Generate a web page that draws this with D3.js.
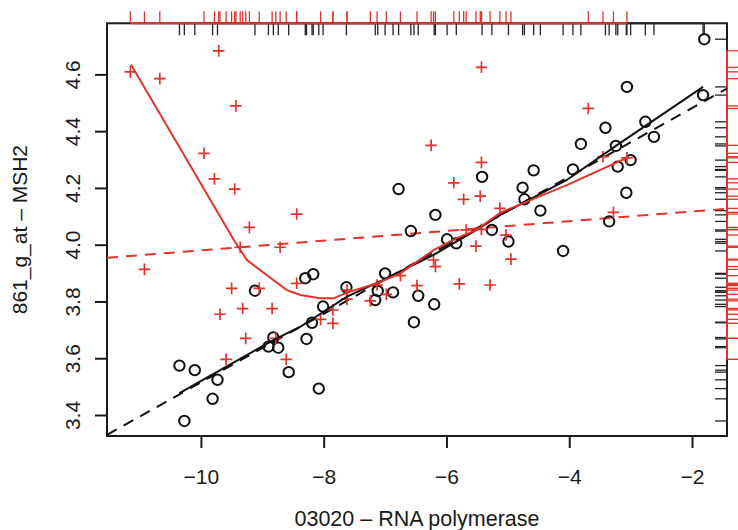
<!DOCTYPE html>
<html>
<head>
<meta charset="utf-8">
<script src="https://cdn.jsdelivr.net/npm/d3@7"></script>
<style>
  body { margin: 0; background: #fff; }
  svg { display: block; font-family: "Liberation Sans", Arial, Helvetica, sans-serif; }
</style>
</head>
<body>
<div id="chart"></div>
<script>
// black group (circles)
const circleX = [-1.80, -1.82, -3.06, -2.76, -3.41, -2.62, -3.24, -3.81, -4.58, -3.94,
  -3.00, -3.21, -4.76, -4.73, -4.47, -3.07, -3.35, -5.42, -6.78, -6.18,
  -6.58, -5.26, -5.99, -5.84, -4.99, -4.10, -8.30, -8.17, -7.63, -7.00,
  -8.01, -7.12, -6.87, -7.16, -8.19, -8.28, -6.46, -6.20, -6.53, -8.08,
  -9.12, -8.90, -8.82, -8.74, -8.57, -10.35, -10.10, -9.73, -9.81, -10.27];
const circleY = [4.724, 4.527, 4.556, 4.433, 4.412, 4.380, 4.348, 4.355, 4.262, 4.265,
  4.298, 4.275, 4.201, 4.160, 4.120, 4.183, 4.082, 4.239, 4.196, 4.105,
  4.048, 4.052, 4.019, 4.005, 4.011, 3.978, 3.882, 3.896, 3.850, 3.899,
  3.782, 3.837, 3.832, 3.805, 3.725, 3.668, 3.820, 3.790, 3.727, 3.493,
  3.838, 3.641, 3.673, 3.637, 3.551, 3.574, 3.558, 3.524, 3.457, 3.379];

// red group (pluses)
const plusX = [-9.71, -11.15, -10.67, -9.43, -9.95, -9.78, -9.45, -9.21, -8.44, -5.43,
  -6.25, -5.43, -5.88, -5.45, -5.72, -5.13, -5.68, -5.43, -5.03, -3.69,
  -3.45, -3.06, -3.28, -10.92, -9.50, -9.05, -8.44, -9.69, -9.32, -8.84,
  -9.27, -8.78, -9.59, -8.61, -9.36, -8.71, -8.05, -7.85, -7.85, -7.62,
  -7.62, -7.13, -7.24, -6.98, -6.75, -6.48, -6.21, -6.18, -5.79, -5.29,
  -5.52, -4.95];
const plusY = [4.683, 4.609, 4.585, 4.489, 4.322, 4.232, 4.196, 4.061, 4.108, 4.625,
  4.350, 4.290, 4.218, 4.171, 4.160, 4.128, 4.052, 4.054, 4.034, 4.480,
  4.310, 4.306, 4.114, 3.913, 3.846, 3.846, 3.864, 3.755, 3.775, 3.775,
  3.670, 3.670, 3.596, 3.596, 3.991, 3.991, 3.737, 3.770, 3.723, 3.840,
  3.808, 3.858, 3.802, 3.825, 3.891, 3.856, 3.946, 3.923, 3.862, 3.858,
  3.995, 3.949];

// smooth curves
const blackSmooth = [[-10.35, 3.477], [-8.82, 3.664], [-8.38, 3.711], [-7.62, 3.817],
  [-7.03, 3.876], [-6.21, 3.964], [-5.51, 4.052], [-5.12, 4.105], [-4.04, 4.228],
  [-3.24, 4.348], [-1.82, 4.556]];
const redSmooth = [[-11.14, 4.635], [-9.47, 4.019], [-9.25, 3.946], [-8.93, 3.893],
  [-8.60, 3.840], [-8.38, 3.823], [-8.06, 3.811], [-7.84, 3.811], [-7.62, 3.831],
  [-7.13, 3.864], [-6.75, 3.899], [-6.21, 3.981], [-5.83, 4.023], [-5.51, 4.052],
  [-5.12, 4.113], [-4.04, 4.210], [-3.06, 4.306]];

// straight fits: [intercept, slope]
const blackFit = [4.723, 0.1208];
const redFit = [4.151, 0.0171];

const xTicks = [-10, -8, -6, -4, -2];
const yTicks = [3.4, 3.6, 3.8, 4.0, 4.2, 4.4, 4.6];
const xTitle = '03020 \u2013 RNA polymerase';
const yTitle = '861_g_at \u2013 MSH2';

const width = 738;
const height = 530;
const margin = { top: 23.3, right: 11, bottom: 94, left: 107 };
const red = '#e3322b';

const svg = d3.select('#chart')
  .append('svg')
  .attr('width', width)
  .attr('height', height);

const x = d3.scaleLinear()
  .domain([-11.53, -1.43])
  .range([margin.left, width - margin.right]);

const y = d3.scaleLinear()
  .domain([3.326, 4.78])
  .range([height - margin.bottom, margin.top]);

const [x0, x1] = x.range();
const [y0, y1] = y.range();

svg.append('clipPath')
  .attr('id', 'plot-clip')
  .append('rect')
  .attr('x', x0)
  .attr('y', y1)
  .attr('width', x1 - x0)
  .attr('height', y0 - y1);

// axes
const xAxis = svg.append('g')
  .attr('transform', `translate(0, ${y0})`)
  .call(d3.axisBottom(x).tickValues(xTicks).tickSize(12).tickPadding(21)
    .tickFormat(d => d3.format('d')(d).replace('-', '\u2212')));
xAxis.select('.domain').remove();
xAxis.selectAll('line').attr('stroke', '#1a1a1a').attr('stroke-width', 2);
xAxis.selectAll('text').attr('font-size', 21).attr('fill', '#1a1a1a');

const yAxis = svg.append('g')
  .attr('transform', `translate(${x0}, 0)`)
  .call(d3.axisLeft(y).tickValues(yTicks).tickSize(12).tickFormat(d3.format('.1f')));
yAxis.select('.domain').remove();
yAxis.selectAll('line').attr('stroke', '#1a1a1a').attr('stroke-width', 2);
yAxis.selectAll('text')
  .attr('font-size', 21)
  .attr('fill', '#1a1a1a')
  .attr('text-anchor', 'middle')
  .attr('dy', null)
  .attr('x', 0)
  .attr('y', -27)
  .attr('transform', 'rotate(-90)');

svg.append('text')
  .attr('x', (x0 + x1) / 2)
  .attr('y', 526)
  .attr('text-anchor', 'middle')
  .attr('font-size', 21.5)
  .attr('fill', '#1a1a1a')
  .text(xTitle);

svg.append('text')
  .attr('transform', `translate(27, ${(y0 + y1) / 2}) rotate(-90)`)
  .attr('text-anchor', 'middle')
  .attr('font-size', 21)
  .attr('fill', '#1a1a1a')
  .text(yTitle);

// rugs
function rug(values, color, side, len) {
  const g = svg.append('g').attr('stroke', color).attr('stroke-width', 1.3);
  if (side === 'top') {
    g.append('line')
      .attr('x1', x(d3.min(values))).attr('x2', x(d3.max(values)))
      .attr('y1', y1).attr('y2', y1).attr('stroke-width', 2);
    g.selectAll('.tick').data(values).join('line')
      .attr('x1', d => x(d)).attr('x2', d => x(d))
      .attr('y1', y1).attr('y2', y1 + len);
  } else {
    g.append('line')
      .attr('y1', y(d3.min(values))).attr('y2', y(d3.max(values)))
      .attr('x1', x1).attr('x2', x1).attr('stroke-width', 2);
    g.selectAll('.tick').data(values).join('line')
      .attr('y1', d => y(d)).attr('y2', d => y(d))
      .attr('x1', x1).attr('x2', x1 + len);
  }
}

// frame
svg.append('rect')
  .attr('x', x0)
  .attr('y', y1)
  .attr('width', x1 - x0)
  .attr('height', y0 - y1)
  .attr('fill', 'none')
  .attr('stroke', '#1a1a1a')
  .attr('stroke-width', 2);

rug(circleX, '#222', 'top', 12);
rug(plusX, red, 'top', -12);
rug(circleY, '#222', 'right', -12);
rug(plusY, red, 'right', 12);

const plot = svg.append('g').attr('clip-path', 'url(#plot-clip)');

// straight fits
const fitLine = coef => [x.domain()[0], x.domain()[1]].map(v => [v, coef[0] + coef[1] * v]);
const line = d3.line().x(d => x(d[0])).y(d => y(d[1]));

plot.append('path')
  .attr('d', line(fitLine(blackFit)))
  .attr('fill', 'none')
  .attr('stroke', '#111')
  .attr('stroke-width', 2)
  .attr('stroke-dasharray', '11,8');

plot.append('path')
  .attr('d', line(fitLine(redFit)))
  .attr('fill', 'none')
  .attr('stroke', red)
  .attr('stroke-width', 2)
  .attr('stroke-dasharray', '11,8');

// points
plot.selectAll('.pt-circle')
  .data(d3.zip(circleX, circleY))
  .join('circle')
  .attr('class', 'pt-circle')
  .attr('cx', d => x(d[0]))
  .attr('cy', d => y(d[1]))
  .attr('r', 5.2)
  .attr('fill', 'none')
  .attr('stroke', '#111')
  .attr('stroke-width', 2);

plot.selectAll('.pt-plus')
  .data(d3.zip(plusX, plusY))
  .join('path')
  .attr('class', 'pt-plus')
  .attr('d', d => {
    const cx = x(d[0]);
    const cy = y(d[1]);
    const h = 5.8;
    return `M${cx - h},${cy}H${cx + h}M${cx},${cy - h}V${cy + h}`;
  })
  .attr('fill', 'none')
  .attr('stroke', red)
  .attr('stroke-width', 1.7);

// smooth curves
plot.append('path')
  .attr('d', line(blackSmooth))
  .attr('fill', 'none')
  .attr('stroke', '#111')
  .attr('stroke-width', 2);

plot.append('path')
  .attr('d', line(redSmooth))
  .attr('fill', 'none')
  .attr('stroke', red)
  .attr('stroke-width', 2);
</script>
</body>
</html>
